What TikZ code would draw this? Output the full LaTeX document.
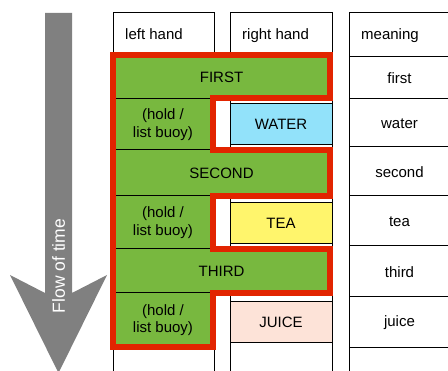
\documentclass[tikz,border=0pt]{standalone}
\usepackage{fontspec}
\setmainfont{Liberation Sans}
\begin{document}
\begin{tikzpicture}[x=1pt,y=-1pt,
  lbl/.style={font=\fontsize{15}{17.5}\selectfont, align=center, inner sep=0pt},
  cellline/.style={draw=black, line width=1pt},
  item/.style={draw=black, line width=1pt, minimum width=102pt, minimum height=41pt, inner sep=0pt, font=\fontsize{15}{17.5}\selectfont},
  redline/.style={draw=tred, line width=6pt, line join=miter},
]
\definecolor{tgreen}{HTML}{78B83F}
\definecolor{tred}{HTML}{E22400}
\definecolor{tblue}{HTML}{92E2FA}
\definecolor{tyellow}{HTML}{FFF56C}
\definecolor{tpink}{HTML}{FDE3D8}
\definecolor{tgray}{HTML}{808080}
\useasboundingbox (0,0) rectangle (448,371);
\clip (0,0) rectangle (448,371);

% flow of time arrow
\fill[tgray] (45,13) -- (72,13) -- (72,293) -- (107,275) -- (58.5,373) -- (10,275) -- (45,293) -- cycle;
\node[lbl, font=\fontsize{17.5}{20}\selectfont, text=white, rotate=90] (flow) at (58.5,266) {Flow of time};

% columns
\draw[cellline] (113,380) -- (113,13) -- (214,13) -- (214,380);
\draw[cellline] (230,380) -- (230,13) -- (332,13) -- (332,380);
\draw[cellline] (349,380) -- (349,13) -- (460,13);
\foreach \y in {57,98.5,147,196,246,297,348} \draw[cellline] (349,\y) -- (460,\y);

% headers
\node[lbl, anchor=base west] (hl) at (125,40) {left hand};
\node[lbl, anchor=base west] (hr) at (242,40) {right hand};
\node[lbl, anchor=base west] (hm) at (361,40) {meaning};

% right-hand items
\node[item, fill=tblue] (water) at (281,124.5) {WATER};
\node[item, fill=tyellow] (tea) at (281,223) {TEA};
\node[item, fill=tpink] (juice) at (281,322) {JUICE};

% green region
\fill[tgreen] (113,55) -- (330,55) -- (330,98.5) -- (213,98.5) -- (213,150) -- (330,150) -- (330,196) -- (213,196) -- (213,249) -- (330,249) -- (330,293) -- (213,293) -- (213,347) -- (113,347) -- cycle;
\foreach \y in {98.5,150,196,249,293} \draw[cellline] (113,\y) -- (213,\y);
\draw[redline] (113,55) -- (330,55) -- (330,98.5) -- (213,98.5) -- (213,150) -- (330,150) -- (330,196) -- (213,196) -- (213,249) -- (330,249) -- (330,293) -- (213,293) -- (213,347) -- (113,347) -- cycle;

% left-hand texts
\node[lbl] (first) at (221.5,77) {FIRST};
\node[lbl] (hold1) at (163,124.5) {(hold /\\list buoy)};
\node[lbl] (second) at (221.5,173) {SECOND};
\node[lbl] (hold2) at (163,222.5) {(hold /\\list buoy)};
\node[lbl] (third) at (221.5,271) {THIRD};
\node[lbl] (hold3) at (163,320) {(hold /\\list buoy)};

% meanings
\node[lbl] (m1) at (399.5,78) {first};
\node[lbl] (m2) at (399.5,124) {water};
\node[lbl] (m3) at (399.5,172) {second};
\node[lbl] (m4) at (399.5,222) {tea};
\node[lbl] (m5) at (399.5,272) {third};
\node[lbl] (m6) at (399.5,322.5) {juice};
\end{tikzpicture}
\end{document}
